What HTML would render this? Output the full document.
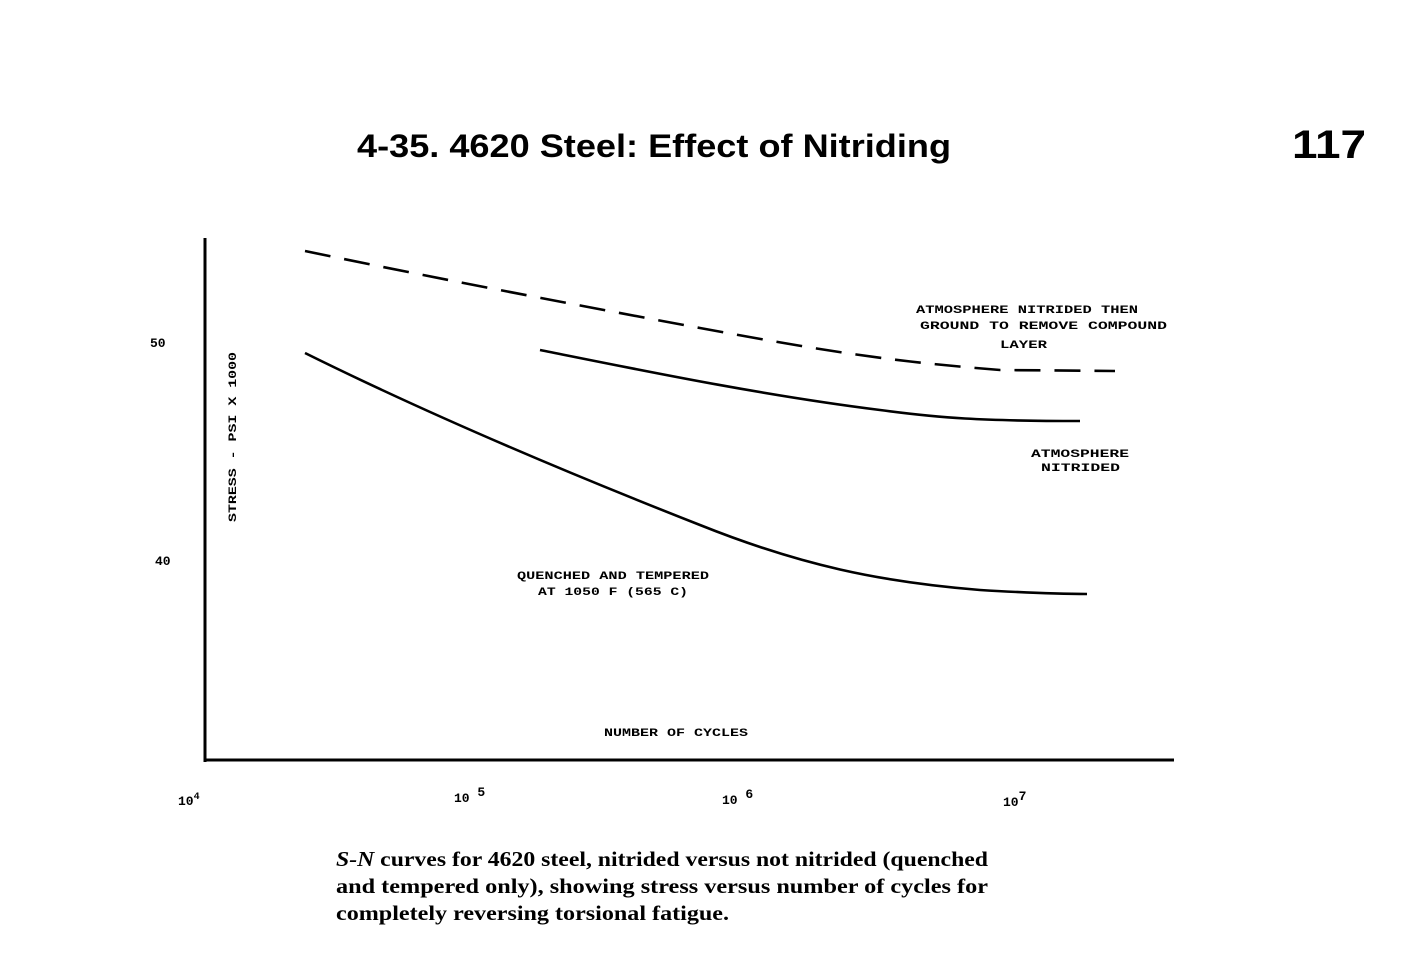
<!DOCTYPE html>
<html><head><style>
body{margin:0;background:#fff;width:1410px;height:961px;overflow:hidden}
</style></head><body>
<svg width="1410" height="961" xmlns="http://www.w3.org/2000/svg" font-family="Liberation Sans, sans-serif">
<text x="357" y="157" font-size="32" font-weight="bold" textLength="594" lengthAdjust="spacingAndGlyphs">4-35.  4620 Steel: Effect of Nitriding</text>
<text x="1292" y="158" font-size="40" font-weight="bold" textLength="74" lengthAdjust="spacingAndGlyphs">117</text>
<line x1="205" y1="238" x2="205" y2="762" stroke="#000" stroke-width="3"/>
<line x1="204" y1="760" x2="1174" y2="760" stroke="#000" stroke-width="3"/>
<g fill="none" stroke="#000" stroke-width="2.6">
<path d="M305,251 C420,275 560,302 700,328 S900,362 1000,370 L1115,371" stroke-dasharray="26,14"/>
<path d="M540,350 C640,370 760,395 880,410 C940,418 980,421 1080,421"/>
<path d="M305,353 C420,410 560,470 700,525 C800,565 880,582 980,590 C1030,593 1060,594 1087,594"/>
</g>
<g font-family="Liberation Mono, monospace" font-weight="bold" font-size="11" lengthAdjust="spacingAndGlyphs">
<text x="150" y="347" font-size="13">50</text>
<text x="155" y="565" font-size="13">40</text>
<text x="916" y="313" textLength="222" lengthAdjust="spacingAndGlyphs">ATMOSPHERE NITRIDED THEN</text>
<text x="920" y="329" textLength="247" lengthAdjust="spacingAndGlyphs">GROUND TO REMOVE COMPOUND</text>
<text x="1000" y="348" textLength="47" lengthAdjust="spacingAndGlyphs">LAYER</text>
<text x="1031" y="457" textLength="98" lengthAdjust="spacingAndGlyphs">ATMOSPHERE</text>
<text x="1041" y="471" textLength="79" lengthAdjust="spacingAndGlyphs">NITRIDED</text>
<text x="517" y="579" textLength="192" lengthAdjust="spacingAndGlyphs">QUENCHED AND TEMPERED</text>
<text x="538" y="595" textLength="150" lengthAdjust="spacingAndGlyphs">AT 1050 F (565 C)</text>
<text x="604" y="736" textLength="144" lengthAdjust="spacingAndGlyphs">NUMBER OF CYCLES</text>
<text transform="translate(236,522) rotate(-90)" textLength="170" lengthAdjust="spacingAndGlyphs">STRESS - PSI X 1000</text>
<text x="178" y="805" font-size="13">10<tspan dy="-6" font-size="10">4</tspan></text>
<text x="454" y="802" font-size="13">10 <tspan dy="-6">5</tspan></text>
<text x="722" y="804" font-size="13">10 <tspan dy="-6">6</tspan></text>
<text x="1003" y="806" font-size="13">10<tspan dy="-6">7</tspan></text>
</g>
<g font-family="Liberation Serif, serif" font-weight="bold" font-size="21">
<text x="336" y="866" textLength="652" lengthAdjust="spacingAndGlyphs"><tspan font-style="italic">S-N</tspan> curves for 4620 steel, nitrided versus not nitrided (quenched</text>
<text x="336" y="893" textLength="652" lengthAdjust="spacingAndGlyphs">and tempered only), showing stress versus number of cycles for</text>
<text x="336" y="920" textLength="393" lengthAdjust="spacingAndGlyphs">completely reversing torsional fatigue.</text>
</g>
</svg>
</body></html>
